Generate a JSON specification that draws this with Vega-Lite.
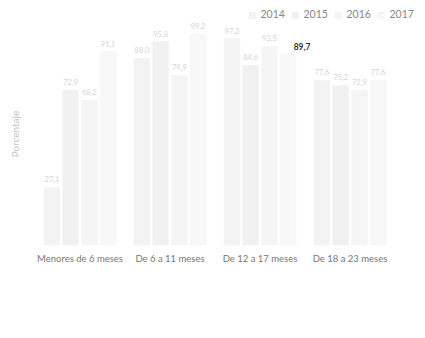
{
  "$schema": "https://vega.github.io/schema/vega-lite/v6.json",
  "width": 360,
  "height": 223,
  "padding": {"left": 10, "top": 10, "right": 5, "bottom": 5},
  "background": "white",
  "config": {
    "view": {"stroke": null},
    "font": "Lato",
    "locale": {"number": {"decimal": ",", "thousands": ".", "grouping": [3], "currency": ["", " €"]}}
  },
  "data": {
    "values": [
      {"grupo": "Menores de 6 meses", "anio": "2014", "valor": 27.1},
      {"grupo": "Menores de 6 meses", "anio": "2015", "valor": 72.9},
      {"grupo": "Menores de 6 meses", "anio": "2016", "valor": 68.2},
      {"grupo": "Menores de 6 meses", "anio": "2017", "valor": 91.1},
      {"grupo": "De 6 a 11 meses", "anio": "2014", "valor": 88.0},
      {"grupo": "De 6 a 11 meses", "anio": "2015", "valor": 95.8},
      {"grupo": "De 6 a 11 meses", "anio": "2016", "valor": 79.9},
      {"grupo": "De 6 a 11 meses", "anio": "2017", "valor": 99.2},
      {"grupo": "De 12 a 17 meses", "anio": "2014", "valor": 97.2},
      {"grupo": "De 12 a 17 meses", "anio": "2015", "valor": 84.6},
      {"grupo": "De 12 a 17 meses", "anio": "2016", "valor": 93.5},
      {"grupo": "De 12 a 17 meses", "anio": "2017", "valor": 89.7},
      {"grupo": "De 18 a 23 meses", "anio": "2014", "valor": 77.6},
      {"grupo": "De 18 a 23 meses", "anio": "2015", "valor": 75.2},
      {"grupo": "De 18 a 23 meses", "anio": "2016", "valor": 72.9},
      {"grupo": "De 18 a 23 meses", "anio": "2017", "valor": 77.6}
    ]
  },
  "encoding": {
    "x": {
      "field": "grupo", "type": "nominal",
      "sort": ["Menores de 6 meses", "De 6 a 11 meses", "De 12 a 17 meses", "De 18 a 23 meses"],
      "scale": {"paddingInner": 0.2, "paddingOuter": 0.1},
      "axis": {"title": null, "labelAngle": 0, "ticks": false, "domain": false, "labelColor": "#777777", "labelFontSize": 9.5, "labelPadding": 8, "labelFont": "Lato"}
    },
    "xOffset": {"field": "anio", "type": "nominal", "scale": {"paddingInner": 0.15}},
    "y": {
      "field": "valor", "type": "quantitative",
      "scale": {"domain": [0, 105]},
      "axis": {"title": "Porcentaje", "labels": false, "ticks": false, "domain": false, "grid": false, "titleColor": "#c4c4c4", "titleFontSize": 10, "titleFontWeight": "normal", "titlePadding": 15}
    }
  },
  "layer": [
    {
      "mark": {"type": "bar", "stroke": "#f2f2f2", "strokeWidth": 0.5},
      "encoding": {
        "color": {
          "field": "anio", "type": "nominal",
          "scale": {"domain": ["2014", "2015", "2016", "2017"], "range": ["#f3f3f3", "#f1f1f1", "#f5f5f5", "#f8f8f8"]},
          "legend": {"title": null, "orient": "none", "legendX": 212, "legendY": -12, "direction": "horizontal", "symbolType": "square", "symbolSize": 36, "symbolOffset": 0, "labelOffset": 3, "labelFontSize": 10.5, "labelColor": "#888888", "columnPadding": 5, "labelFont": "Lato", "symbolStrokeColor": "#e6e6e6", "symbolStrokeWidth": 0.5}
        }
      }
    },
    {
      "transform": [{"filter": "datum.valor != 89.7"}],
      "mark": {"type": "text", "dy": -7, "fontSize": 7.5, "color": "#d4d4d4"},
      "encoding": {"text": {"field": "valor", "type": "quantitative", "format": ".1f"}}
    },
    {
      "transform": [{"filter": "datum.valor == 89.7"}],
      "mark": {"type": "text", "dy": -7, "dx": 14, "fontSize": 8.5, "fontWeight": "bold", "color": "#333333"},
      "encoding": {"text": {"field": "valor", "type": "quantitative", "format": ".1f"}}
    }
  ]
}
